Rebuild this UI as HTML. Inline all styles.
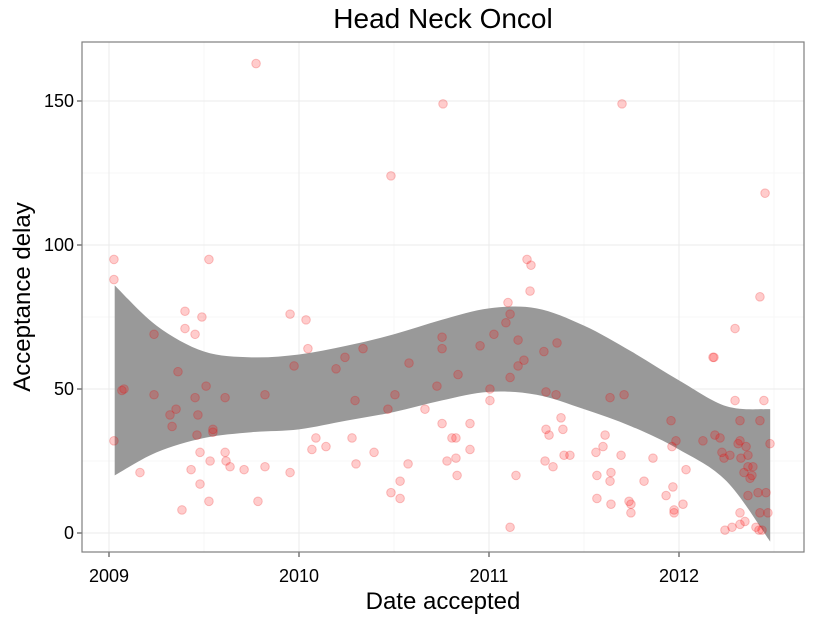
<!DOCTYPE html>
<html><head><meta charset="utf-8"><style>
body{margin:0;background:#fff}
svg text{font-family:"Liberation Sans",sans-serif}
</style></head><body>
<svg id="chart" width="825" height="618">
<text x="443" y="28" font-size="28" text-anchor="middle">Head Neck Oncol</text>
<rect x="82" y="42" width="722" height="510" fill="#fff"/>
<g id="grid"></g><g id="band"></g><g id="pts"></g><g id="axes"></g>
<rect x="82" y="42" width="722" height="510" fill="none" stroke="#7f7f7f" stroke-width="1.2"/>
<text x="443" y="609" font-size="24" text-anchor="middle">Date accepted</text>
<text transform="translate(30,297) rotate(-90)" font-size="24" text-anchor="middle">Acceptance delay</text>
</svg>
<script>
const xTicks=[2009,2010,2011,2012];
const yTicks=[0,50,100,150];
const bandX=[2009.03,2009.25,2009.5,2009.75,2010,2010.25,2010.5,2010.75,2011,2011.25,2011.5,2011.75,2012,2012.25,2012.48];
const bandUpper=[86,72,63,61,62,65,69,74,78,78,72,63,53,44,43];
const bandLower=[20,28,33,35,36,39,42,46,49,48,43,37,29,18,-3];
const dates=[2009.026,2009.026,2009.026,2009.068,2009.079,2009.163,2009.237,2009.237,2009.321,2009.332,2009.353,2009.363,2009.384,2009.4,2009.4,2009.432,2009.453,2009.453,2009.463,2009.468,2009.479,2009.479,2009.489,2009.511,2009.526,2009.526,2009.532,2009.547,2009.547,2009.611,2009.611,2009.616,2009.637,2009.711,2009.774,2009.784,2009.821,2009.821,2009.953,2009.953,2009.974,2010.037,2010.047,2010.068,2010.089,2010.142,2010.195,2010.242,2010.279,2010.295,2010.3,2010.337,2010.395,2010.468,2010.484,2010.484,2010.505,2010.532,2010.532,2010.574,2010.579,2010.663,2010.726,2010.753,2010.753,2010.758,2010.753,2010.779,2010.805,2010.826,2010.826,2010.832,2010.837,2010.9,2010.9,2010.953,2011.005,2011.005,2011.026,2011.089,2011.1,2011.111,2011.111,2011.111,2011.142,2011.153,2011.153,2011.184,2011.2,2011.221,2011.216,2011.289,2011.3,2011.3,2011.316,2011.295,2011.337,2011.353,2011.358,2011.379,2011.389,2011.395,2011.426,2011.563,2011.568,2011.568,2011.6,2011.611,2011.637,2011.637,2011.642,2011.642,2011.695,2011.7,2011.711,2011.737,2011.747,2011.747,2011.816,2011.863,2011.932,2011.958,2011.963,2011.968,2011.974,2011.974,2011.984,2012.021,2012.037,2012.126,2012.179,2012.184,2012.189,2012.216,2012.226,2012.237,2012.242,2012.268,2012.279,2012.295,2012.295,2012.311,2012.321,2012.321,2012.321,2012.321,2012.326,2012.342,2012.347,2012.353,2012.363,2012.363,2012.363,2012.374,2012.384,2012.389,2012.405,2012.416,2012.421,2012.426,2012.426,2012.426,2012.437,2012.447,2012.453,2012.458,2012.468,2012.479];
const delays=[95,88,32,49.5,50,21,69,48,41,37,43,56,8,77,71,22,69,47,34,41,28,17,75,51,95,11,25,35,36,47,28,25,23,22,163,11,48,23,76,21,58,74,64,29,33,30,57,61,33,46,24,64,28,43,124,14,48,12,18,24,59,43,51,68,64,149,38,25,33,33,26,20,55,38,29,65,50,46,69,73,80,76,2,54,20,58,67,60,95,93,84,63,49,36,34,25,23,48,66,40,36,27,27,28,20,12,30,34,47,18,21,10,27,149,48,11,10,7,18,26,13,39,30,16,8,7,32,10,22,32,61,61,34,33,28,26,1,27,2,46,71,31,7,3,39,32,26,21,4,30,27,23,13,19,20,23,2,14,1,82,39,7,1,46,118,14,7,31];
const NS='http://www.w3.org/2000/svg';
const X0=82,X1=804,Y0=42,Y1=552;
function xs(v){return 109+(v-2009)*190;}
function ys(v){return 533-v*2.88;}
function mk(tag,attrs,parent){const e=document.createElementNS(NS,tag);for(const k in attrs)e.setAttribute(k,attrs[k]);parent.appendChild(e);return e;}
const grid=document.getElementById('grid'),axes=document.getElementById('axes');
for(let i=0;i<yTicks.length;i++){const v=yTicks[i]+25;if(ys(v)>Y0){const l=mk('line',{x1:X0,x2:X1,y1:ys(v),y2:ys(v),stroke:'#f5f5f5','stroke-width':0.8},grid);

}}
for(let i=0;i<xTicks.length;i++){const v=xTicks[i]+0.5;if(xs(v)<X1){const l=mk('line',{x1:xs(v),x2:xs(v),y1:Y0,y2:Y1,stroke:'#f5f5f5','stroke-width':0.8},grid);

}}
yTicks.forEach(v=>{const l=mk('line',{x1:X0,x2:X1,y1:ys(v),y2:ys(v),stroke:'#ebebeb','stroke-width':1},grid);


const t=mk('line',{x1:X0-5,x2:X0,y1:ys(v),y2:ys(v),stroke:'#333'},axes);


const tx=mk('text',{x:X0-8,y:ys(v)+6,'font-size':18,'text-anchor':'end',fill:'#000'},axes);tx.textContent=v;

});
xTicks.forEach(v=>{const l=mk('line',{x1:xs(v),x2:xs(v),y1:Y0,y2:Y1,stroke:'#ebebeb','stroke-width':1},grid);


const t=mk('line',{x1:xs(v),x2:xs(v),y1:Y1,y2:Y1+5,stroke:'#333'},axes);


const tx=mk('text',{x:xs(v),y:Y1+30,'font-size':18,'text-anchor':'middle',fill:'#000'},axes);tx.textContent=v;

});
function smooth(pts){let d='';for(let i=0;i<pts.length-1;i++){const p0=pts[Math.max(0,i-1)],p1=pts[i],p2=pts[i+1],p3=pts[Math.min(pts.length-1,i+2)];
const c1=[p1[0]+(p2[0]-p0[0])/6,p1[1]+(p2[1]-p0[1])/6],c2=[p2[0]-(p3[0]-p1[0])/6,p2[1]-(p3[1]-p1[1])/6];
d+=' C'+c1+' '+c2+' '+p2;}return d;}
const up=bandX.map((x,i)=>[xs(x),ys(bandUpper[i])]);
const lo=bandX.map((x,i)=>[xs(x),ys(bandLower[i])]).reverse();
const d='M'+up[0]+smooth(up)+' L'+lo[0]+smooth(lo)+'Z';
const band=mk('path',{d:d,fill:'#999999'},document.getElementById('band'));


const pts=document.getElementById('pts');
dates.forEach((x,i)=>{const c=mk('circle',{cx:xs(x),cy:ys(delays[i]),r:4.3,fill:'rgba(255,0,0,0.2)',stroke:'rgba(230,0,0,0.22)','stroke-width':1},pts);

});
</script>
</body></html>
